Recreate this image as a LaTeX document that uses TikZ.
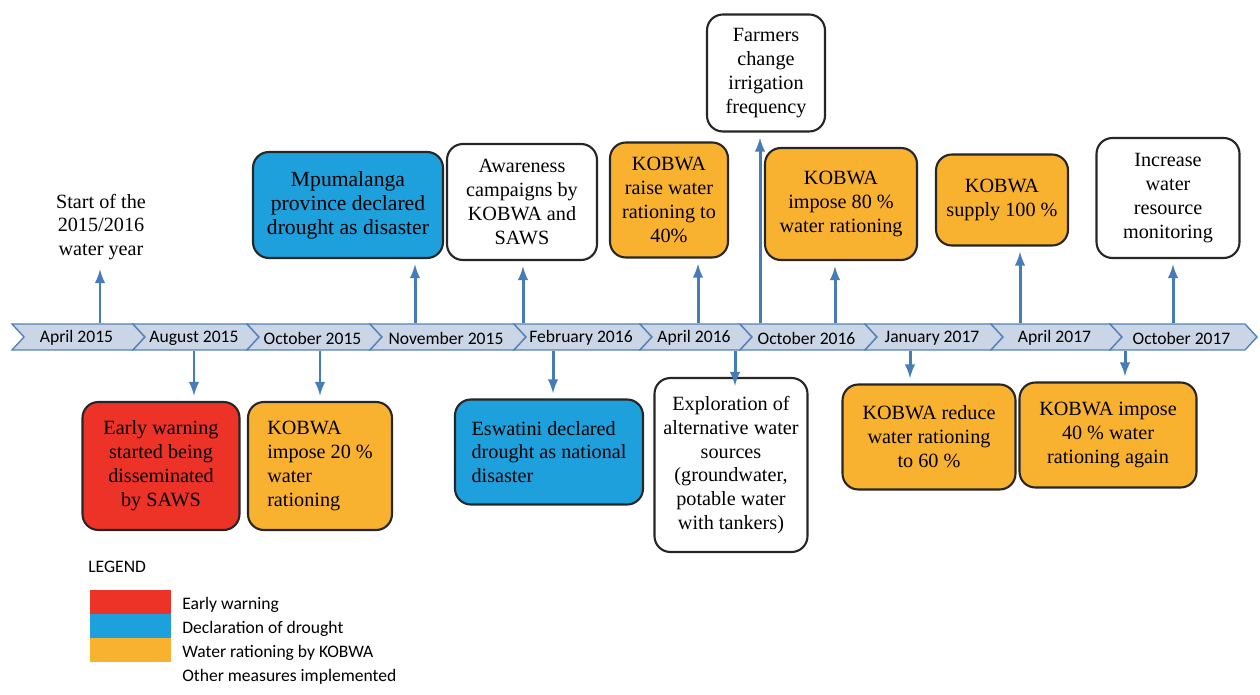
\documentclass[tikz,border=0pt]{standalone}
\usepackage{fontspec}
\setmainfont{Liberation Serif}
\newfontfamily\calibfont{Carlito}
\usetikzlibrary{calc}

\definecolor{warnred}{RGB}{237,50,40}
\definecolor{declblue}{RGB}{29,160,219}
\definecolor{ratorange}{RGB}{249,178,48}
\definecolor{arrblue}{RGB}{70,125,185}
\definecolor{chevfill}{RGB}{202,214,230}
\definecolor{chevline}{RGB}{85,130,185}

\begin{document}
\begin{tikzpicture}[x=0.02cm,y=-0.02cm,
  box/.style={draw=black!85,line width=1.2pt,rounded corners=9pt,align=center,inner sep=2pt,
    font=\fontsize{11.5}{13.6}\selectfont},
  plain/.style={align=center,inner sep=2pt,font=\fontsize{11.5}{13.6}\selectfont},
  arr/.style={line width=1.7pt,arrblue,-latex,shorten >=3pt},
  chev/.style={draw=chevline,line width=0.8pt,fill=chevfill},
  mlab/.style={font=\calibfont\fontsize{10}{12}\selectfont,inner sep=1pt},
  leglab/.style={font=\calibfont\fontsize{10}{12}\selectfont,inner sep=0pt,anchor=west}]

\fill[white] (0,0) rectangle (1260,695);
\useasboundingbox (0,0) rectangle (1260,695);

% timeline
\foreach \xa/\xb/\lab [count=\i] in {12/133/April 2015, 133/247/August 2015, 247/370/October 2015,
    370/514/November 2015, 514/640/February 2016, 640/740/April 2016, 740/865/October 2016,
    865/991/January 2017, 991/1110/April 2017, 1110/1245/October 2017}
  {
  \draw[chev] (\xa,324) -- (\xb,324) -- (\xb+12,337) -- (\xb,350) -- (\xa,350) -- (\xa+12,337) -- cycle;
  \node[mlab] (m\i) at ({(\xa+\xb)/2+4},338) {\lab};
  }

% events above the timeline
\node[plain] (start) at (101,227) {Start of the\\2015/2016\\water year};
\node[box,fill=declblue,minimum width=3.8cm,minimum height=2.12cm,font=\fontsize{12.3}{13.6}\selectfont]
  (mpu) at (348,205) {Mpumalanga\\province declared\\drought as disaster};
\node[box,fill=white,minimum width=3.0cm,minimum height=2.32cm] (aware) at (522,202)
  {Awareness\\campaigns by\\KOBWA and\\SAWS};
\node[box,fill=ratorange,minimum width=2.36cm,minimum height=2.3cm] (raise) at (669,200)
  {KOBWA\\raise water\\rationing to\\40\%};
\node[box,fill=white,minimum width=2.36cm,minimum height=2.34cm] (farm) at (766,73)
  {Farmers\\change\\irrigation\\frequency};
\node[box,fill=ratorange,minimum width=3.04cm,minimum height=2.24cm] (imp80) at (841,204)
  {KOBWA\\impose 80 \%\\water rationing};
\node[box,fill=ratorange,minimum width=2.64cm,minimum height=1.82cm] (sup) at (1002,200)
  {KOBWA\\supply 100 \%};
\node[box,fill=white,minimum width=2.86cm,minimum height=2.4cm] (incr) at (1168,198)
  {Increase\\water\\resource\\monitoring};

% events below the timeline
\node[box,fill=warnred,minimum width=3.14cm,minimum height=2.56cm] (early) at (161,466)
  {Early warning\\started being\\disseminated\\by SAWS};
\node[box,fill=ratorange,minimum width=2.88cm,minimum height=2.56cm,align=left] (imp20) at (320,466)
  {KOBWA\\impose 20 \%\\water\\rationing};
\node[box,fill=declblue,minimum width=3.76cm,minimum height=2.1cm,align=left] (esw) at (549,452)
  {Eswatini declared\\drought as national\\disaster};
\node[box,fill=white,minimum width=3.06cm,minimum height=3.48cm] (expl) at (731,465)
  {Exploration of\\alternative water\\sources\\(groundwater,\\potable water\\with tankers)};
\node[box,fill=ratorange,minimum width=3.46cm,minimum height=2.1cm] (red60) at (929,437)
  {KOBWA reduce\\water rationing\\to 60 \%};
\node[box,fill=ratorange,minimum width=3.54cm,minimum height=2.1cm] (imp40) at (1108,435)
  {KOBWA impose\\40 \% water\\rationing again};

% arrows
\foreach \x/\n in {100/start, 415/mpu, 523/aware, 698/raise, 760/farm, 835/imp80, 1020/sup, 1173/incr}
  {
  \coordinate (u\n) at (\x,323);
  \draw[arr] (u\n) -- (u\n |- \n.south);
  }
\foreach \x/\n in {194/early, 320/imp20, 553/esw, 910/red60, 1125/imp40}
  {
  \coordinate (d\n) at (\x,351);
  \draw[arr] (d\n) -- (d\n |- \n.north);
  }
\coordinate (dexpl) at (735,351);
\draw[arr,shorten >=-5pt] (dexpl) -- (dexpl |- expl.north);

% legend
\node[leglab] (legend) at (88,567) {LEGEND};
\foreach \c/\t [count=\i] in {warnred/Early warning, declblue/Declaration of drought,
    ratorange/Water rationing by KOBWA, white/Other measures implemented}
  {
  \fill[\c] (90,{590+24*(\i-1)}) rectangle (171,{614+24*(\i-1)});
  \node[leglab] (leg\i) at (182,{605+24*(\i-1)}) {\t};
  }
\end{tikzpicture}
\end{document}
